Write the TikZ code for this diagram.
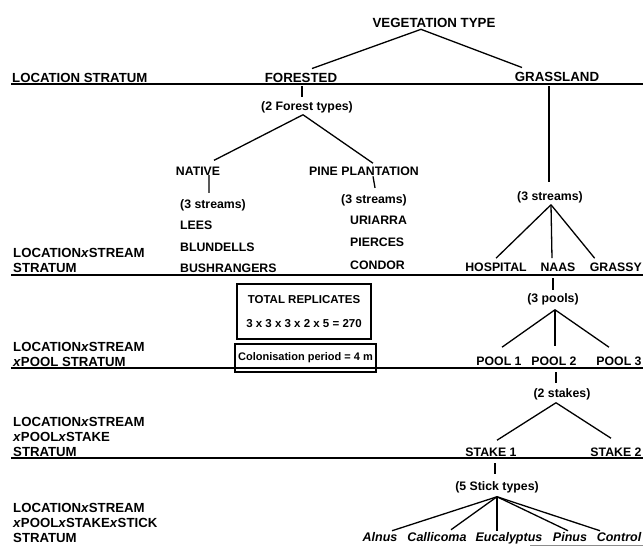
\documentclass[tikz,border=0pt]{standalone}
\usepackage{fontspec}
\setmainfont{Liberation Sans}
\newcommand{\strtab}[1]{\begin{tabular}[b]{@{}l@{}}#1\end{tabular}}
\newcommand{\xx}{\textit{x}}
\begin{document}
\begin{tikzpicture}[x=1pt,y=-1pt,
  conn/.style={line width=1.3pt},
  rulel/.style={line width=1.6pt},
  lab/.style={font=\fontsize{12.3}{14}\selectfont\bfseries, inner sep=0pt, anchor=base},
  labw/.style={lab, anchor=base west},
  biglab/.style={font=\fontsize{13.3}{15}\selectfont\bfseries, inner sep=0pt, anchor=base},
  strlab/.style={font=\fontsize{13.2}{15}\selectfont\bfseries, inner sep=0pt, anchor=base west},
  itl/.style={font=\fontsize{12.5}{14}\selectfont\bfseries\itshape, inner sep=0pt, anchor=base},
  boxed/.style={draw, line width=1.5pt, font=\fontsize{11.5}{24}\selectfont\bfseries, align=center, inner sep=0pt}
]
\useasboundingbox (0,0) rectangle (643,547);

% stratum rules
\draw[rulel] (11,84) -- (643,84);
\draw[rulel] (11,275) -- (643,275);
\draw[rulel] (11,368) -- (643,368);
\draw[rulel] (11,458) -- (643,458);
\draw[line width=0.8pt, black!45] (530,545) -- (643,545);

% stratum labels
\node[strlab] (s1) at (12,82) {LOCATION STRATUM};
\node[strlab] (s2) at (13,272) {\strtab{LOCATION\xx STREAM\\STRATUM}};
\node[strlab] (s3) at (13,366) {\strtab{LOCATION\xx STREAM\\\xx POOL STRATUM}};
\node[strlab] (s4) at (13,456) {\strtab{LOCATION\xx STREAM\\\xx POOL\xx STAKE\\STRATUM}};
\node[strlab] (s5) at (13,542) {\strtab{LOCATION\xx STREAM\\\xx POOL\xx STAKE\xx STICK\\STRATUM}};

% top
\node[biglab] (veg) at (434,27) {VEGETATION TYPE};
\node[biglab] (forested) at (301,82) {FORESTED};
\node[biglab] (grass) at (557,81) {GRASSLAND};
\coordinate (vegapex) at ([shift={(-13,2)}]veg.south);
\draw[conn] (vegapex) -- ([shift={(11,-4)}]forested.north);
\draw[conn] (vegapex) -- ([shift={(-35,-4)}]grass.north);

% forested branch
\node[lab] (ftypes) at (307,110) {(2 Forest types)};
\draw[conn] ([shift={(1,4)}]forested.south) -- ([shift={(-5,-4)}]ftypes.north);
\coordinate (fapex) at ([shift={(-4,2)}]ftypes.south);
\node[lab] (native) at (198,175) {NATIVE};
\node[lab] (pine) at (364,175) {PINE PLANTATION};
\draw[conn] (fapex) -- ([shift={(16,-6)}]native.north);
\draw[conn] (fapex) -- ([shift={(9,-3)}]pine.north);

\node[labw] (nstreams) at (180,208) {(3 streams)};
\node[labw] (lees) at (180,229) {LEES};
\node[labw] (blundells) at (180,251) {BLUNDELLS};
\node[labw] (bush) at (180,272) {BUSHRANGERS};
\draw[conn] ([shift={(11,0)}]native.south) -- ([shift={(-4,-6)}]nstreams.north);

\node[labw] (pstreams) at (341,203) {(3 streams)};
\node[labw] (uriarra) at (350,224) {URIARRA};
\node[labw] (pierces) at (350,246) {PIERCES};
\node[labw] (condor) at (350,269) {CONDOR};
\draw[conn] ([shift={(9,1)}]pine.south) -- ([shift={(1,-6)}]pstreams.north);

% replicate boxes
\node[boxed, minimum width=134, minimum height=55] (total) at (304,311.5)
  {TOTAL REPLICATES\\3 x 3 x 3 x 2 x 5 = 270};
\node[boxed, font=\fontsize{11}{13}\selectfont\bfseries, minimum width=141, minimum height=28] (colon) at (305.5,358)
  {Colonisation period = 4 m};

% grassland branch
\node[lab] (gstreams) at (550,200) {(3 streams)};
\draw[conn] ([shift={(-8,5)}]grass.south) -- ([shift={(-1,-9)}]gstreams.north);
\coordinate (gapex) at ([shift={(1,2)}]gstreams.south);
\node[lab] (hosp) at (496,271) {HOSPITAL};
\node[lab] (naas) at (558,271) {NAAS};
\node[lab, anchor=base east] (grassy) at (642,271) {GRASSY};
\draw[conn] (gapex) -- ([shift={(0,-4)}]hosp.north);
\draw[conn] (gapex) -- ([shift={(-6,-4)}]naas.north);
\draw[conn] (gapex) -- ([shift={(5,-4)}]grassy.north west);

% pools
\node[lab] (pools) at (553,302) {(3 pools)};
\draw[conn] ([shift={(-5,7)}]naas.south) -- ([shift={(0,-3)}]pools.north);
\coordinate (papex) at ([shift={(2,5)}]pools.south);
\node[lab] (pool1) at (499,365) {POOL 1};
\node[lab] (pool2) at (554,365) {POOL 2};
\node[lab] (pool3) at (619,365) {POOL 3};
\draw[conn] (papex) -- ([shift={(3,-9)}]pool1.north);
\draw[conn] (papex) -- ([shift={(1,-10)}]pool2.north);
\draw[conn] (papex) -- ([shift={(-10,-9)}]pool3.north);

% stakes
\node[lab] (stakes) at (562,397) {(2 stakes)};
\draw[conn] ([shift={(2,7)}]pool2.south) -- ([shift={(-6,-5)}]stakes.north);
\coordinate (sapex) at ([shift={(-6,3)}]stakes.south);
\node[lab] (stake1) at (491,456) {STAKE 1};
\node[lab] (stake2) at (616,456) {STAKE 2};
\draw[conn] (sapex) -- ([shift={(6,-7)}]stake1.north);
\draw[conn] (sapex) -- ([shift={(-5,-9)}]stake2.north);

% sticks
\node[lab] (sticks) at (497,490) {(5 Stick types)};
\draw[conn] ([shift={(4,7)}]stake1.south) -- ([shift={(-2,-7)}]sticks.north);
\coordinate (kapex) at ([shift={(0,4)}]sticks.south);
\node[itl] (alnus) at (380,541) {Alnus};
\node[itl] (callicoma) at (437,541) {Callicoma};
\node[itl] (eucal) at (509,541) {Eucalyptus};
\node[itl] (pinus) at (570,541) {Pinus};
\node[itl] (control) at (619,541) {Control};
\draw[conn] (kapex) -- ([shift={(12,-1)}]alnus.north);
\draw[conn] (kapex) -- ([shift={(14,-2)}]callicoma.north);
\draw[conn] (kapex) -- ([shift={(-12,-1)}]eucal.north);
\draw[conn] (kapex) -- ([shift={(-2,-1)}]pinus.north);
\draw[conn] (kapex) -- ([shift={(-19,-1)}]control.north);
\end{tikzpicture}
\end{document}
